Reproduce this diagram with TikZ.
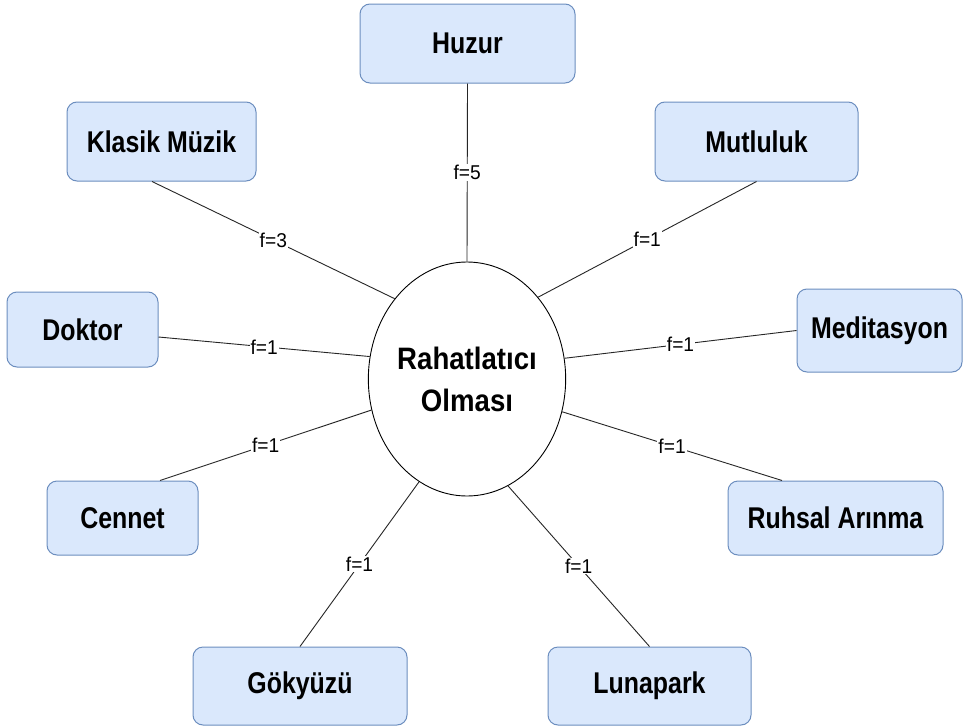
\documentclass[tikz,border=0pt]{standalone}
\usepackage{fontspec}
\setmainfont{Liberation Sans}
\newfontfamily\boxfont[FakeStretch=0.83]{Liberation Sans}
\newfontfamily\hubfont[FakeStretch=0.89]{Liberation Sans}
\newfontfamily\edgefont[FakeStretch=0.96]{Liberation Sans}
\usetikzlibrary{shapes.geometric}
\definecolor{boxfill}{HTML}{DAE8FC}
\definecolor{boxline}{HTML}{6C8EBF}

\begin{document}
\begin{tikzpicture}[x=1pt,y=-1pt,
  topic/.style={draw=boxline, fill=boxfill, rounded corners=10pt, line width=1pt,
    inner sep=0pt, font=\boxfont\bfseries\fontsize{30}{34}\selectfont},
  hub/.style={draw, ellipse, line width=0.9pt, minimum width=196pt, minimum height=234pt,
    inner sep=0pt, align=center, font=\hubfont\bfseries\fontsize{31}{42}\selectfont},
  link/.style={draw=black!85, line width=0.9pt},
  weight/.style={fill=white, inner sep=1pt, font=\edgefont\fontsize{20}{23}\selectfont}]

\fill[white] (0,0) rectangle (964,728);
\useasboundingbox (0,0) rectangle (964,728);

% central idea
\node[hub] (hub) at (467,379) {Rahatlatıcı\\Olması};

% associated words
\node[topic, minimum width=215pt, minimum height=79pt] (huzur)  at (467.5,43.5) {Huzur};
\node[topic, minimum width=189pt, minimum height=79pt] (klasik) at (161.5,141.5) {Klasik Müzik};
\node[topic, minimum width=203pt, minimum height=79pt] (mutlu)  at (756.5,141.5) {Mutluluk};
\node[topic, minimum width=151pt, minimum height=75pt] (doktor) at (82.5,329.5) {Doktor};
\node[topic, minimum width=165pt, minimum height=83pt] (medit)  at (879.5,330.5) {Meditasyon};
\node[topic, minimum width=151pt, minimum height=74pt] (cennet) at (122.5,518) {Cennet};
\node[topic, minimum width=215pt, minimum height=74pt] (ruhsal) at (835.5,518) {Ruhsal Arınma};
\node[topic, minimum width=214pt, minimum height=78pt] (gok)    at (300,686) {Gökyüzü};
\node[topic, minimum width=203pt, minimum height=78pt] (luna)   at (649.5,686) {Lunapark};

% weighted links
\draw[link] (huzur.south) -- node[weight] {f=5} (hub.north);
\draw[link] ([xshift=-9.5pt]klasik.south) -- node[weight] {f=3} (hub.132.8);
\draw[link] (mutlu.south) -- node[weight] {f=1} (hub.49.9);
\draw[link] ([yshift=-7.5pt]doktor.east) -- node[weight] {f=1} (hub.167.7);
\draw[link] (medit.west) -- node[weight] {f=1} (hub.12.7);
\draw[link] ([xshift=37.5pt]cennet.north) -- node[weight] {f=1} (hub.198.3);
\draw[link] ([xshift=-53.5pt]ruhsal.north) -- node[weight] {f=1} (hub.-19.7);
\draw[link] (gok.north) -- node[weight] {f=1} (hub.245);
\draw[link] (luna.north) -- node[weight] {f=1} (hub.291);
\end{tikzpicture}
\end{document}
